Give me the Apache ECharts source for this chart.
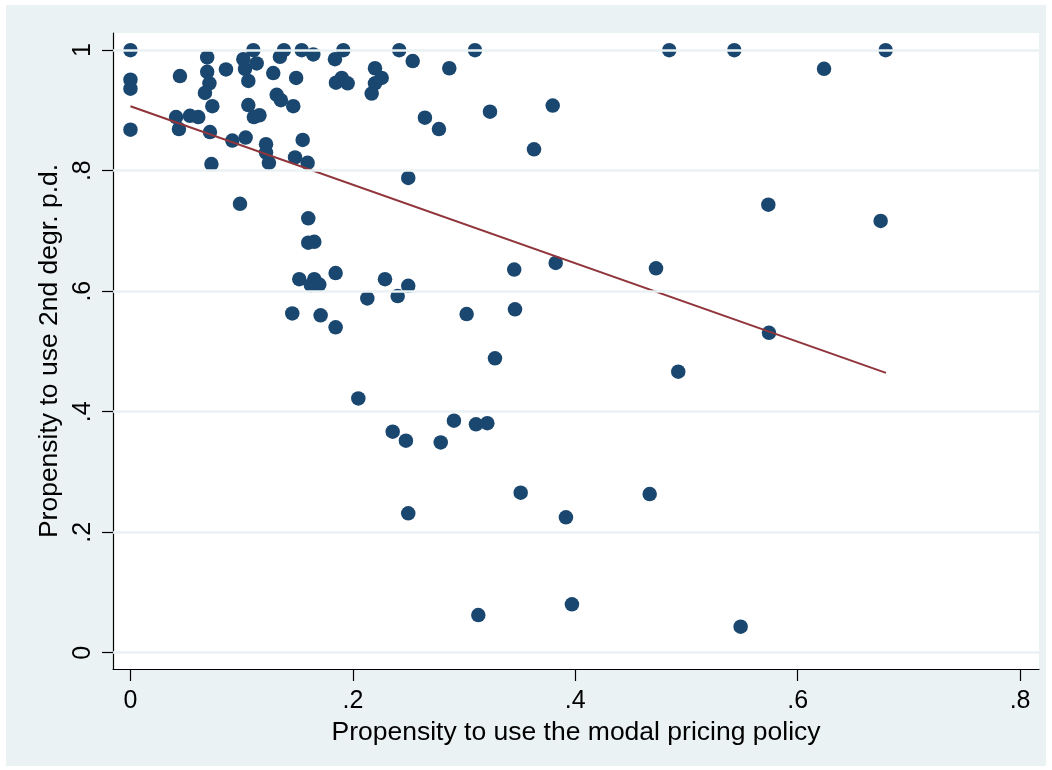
<!DOCTYPE html>
<html>
<head>
<meta charset="utf-8">
<script src="https://cdn.jsdelivr.net/npm/echarts@6/dist/echarts.min.js"></script>
<style>
html,body{margin:0;padding:0;background:#fff;}
#bg{position:absolute;left:6px;top:5px;width:1040px;height:761px;background:#EAF2F3;}
#chart{position:absolute;left:0;top:0;width:1052px;height:770px;}
</style>
</head>
<body>
<div id="bg"></div>
<div id="chart"></div>
<script>
// Propensity to use the modal pricing policy (x)
var pricingModal = [
  0, 0, 0, 0, 0.0445, 0.069, 0.069, 0.071, 0.067, 0.0736,
  0.041, 0.0535, 0.061, 0.0436, 0.0715, 0.0728, 0.0859, 0.0916, 0.0985, 0.1036,
  0.1015, 0.103, 0.106, 0.1105, 0.1135, 0.106, 0.111, 0.116, 0.1219, 0.1219,
  0.1245, 0.1284, 0.1315, 0.1353, 0.1344, 0.138, 0.1464, 0.148, 0.149, 0.1549,
  0.154, 0.1644, 0.1839, 0.1914, 0.1848, 0.190, 0.1953, 0.2199, 0.2259, 0.2199,
  0.2169, 0.2417, 0.2538, 0.2867, 0.3098, 0.2648, 0.2774, 0.1593, 0.2498, 0.1599,
  0.1599, 0.1653, 0.1518, 0.1653, 0.1623, 0.1698, 0.1845, 0.2289, 0.213, 0.2403,
  0.1455, 0.171, 0.1845, 0.2049, 0.2498, 0.3023, 0.3451, 0.3458, 0.3824, 0.3278,
  0.2358, 0.2477, 0.279, 0.2909, 0.3107, 0.3209, 0.3509, 0.2498, 0.3916, 0.4669,
  0.3128, 0.397, 0.4845, 0.543, 0.6791, 0.6237, 0.3233, 0.3797, 0.3629, 0.5736,
  0.6746, 0.4726, 0.5742, 0.4926, 0.5487
];
// Propensity to use 2nd degr. p.d. (y)
var secondDegree = [
  1.0, 0.951, 0.936, 0.868, 0.957, 0.988, 0.964, 0.945, 0.929, 0.907,
  0.889, 0.891, 0.889, 0.869, 0.864, 0.811, 0.968, 0.850, 0.745, 0.855,
  0.985, 0.969, 0.949, 1.0, 0.978, 0.909, 0.889, 0.892, 0.844, 0.830,
  0.813, 0.962, 0.926, 0.917, 0.989, 1.0, 0.907, 0.822, 0.954, 0.851,
  1.0, 0.993, 0.985, 1.0, 0.946, 0.954, 0.945, 0.970, 0.954, 0.945,
  0.928, 1.0, 0.982, 0.970, 1.0, 0.888, 0.869, 0.813, 0.788, 0.721,
  0.6805, 0.682, 0.620, 0.620, 0.610, 0.611, 0.630, 0.620, 0.588, 0.592,
  0.563, 0.560, 0.540, 0.422, 0.609, 0.562, 0.636, 0.570, 0.647, 0.4886,
  0.3668, 0.352, 0.349, 0.385, 0.379, 0.381, 0.2656, 0.2314, 0.2247, 0.2634,
  0.0626, 0.0803, 1.0, 1.0, 1.0, 0.969, 0.898, 0.908, 0.8355, 0.7436,
  0.7165, 0.638, 0.531, 0.4664, 0.0432
];
// Fitted values line (endpoints)
var fitX = [0, 0.6794];
var fitY = [0.907, 0.4645];

var xTickValues = [0, 0.2, 0.4, 0.6, 0.8];
var xTickLabels = ['0', '.2', '.4', '.6', '.8'];
var yTickValues = [0, 0.2, 0.4, 0.6, 0.8, 1];
var yTickLabels = ['0', '.2', '.4', '.6', '.8', '1'];

var xTitle = 'Propensity to use the modal pricing policy';
var yTitle = 'Propensity to use 2nd degr. p.d.';

var FONT = 'Liberation Sans, Arial, sans-serif';
var FS_TITLE = 26.5;
var FS_TICK = 25;

var points = pricingModal.map(function (x, i) { return [x, secondDegree[i]]; });
var fitLine = fitX.map(function (x, i) { return [x, fitY[i]]; });

var chart = echarts.init(document.getElementById('chart'), null, {renderer: 'canvas'});
chart.setOption({
  backgroundColor: 'transparent',
  animation: false,
  grid: {left: 113, top: 33, width: 926, height: 636, show: true, backgroundColor: '#ffffff', borderWidth: 0, containLabel: false},
  xAxis: {
    type: 'value', min: -0.0157, max: 0.817,
    name: xTitle, nameLocation: 'middle', nameGap: 45,
    nameTextStyle: {fontFamily: FONT, fontSize: FS_TITLE, color: '#000'},
    axisLine: {show: true, onZero: false, lineStyle: {color: '#000', width: 1.2}},
    axisTick: {show: true, length: 12, customValues: xTickValues, lineStyle: {color: '#000', width: 1.2}},
    axisLabel: {
      customValues: xTickValues, margin: 20, color: '#000', fontFamily: FONT, fontSize: FS_TICK,
      formatter: function (v) { return xTickLabels[xTickValues.indexOf(v)]; }
    },
    splitLine: {show: false}
  },
  yAxis: {
    type: 'value', min: -0.027, max: 1.0285,
    name: yTitle, nameLocation: 'middle', nameGap: 48,
    nameTextStyle: {fontFamily: FONT, fontSize: FS_TITLE, color: '#000'},
    axisLine: {show: true, onZero: false, lineStyle: {color: '#000', width: 1.2}},
    axisTick: {show: true, length: 11, customValues: yTickValues, lineStyle: {color: '#000', width: 1.2}},
    axisLabel: {
      customValues: yTickValues, rotate: 90, margin: 17, color: '#000', fontFamily: FONT, fontSize: FS_TICK,
      formatter: function (v) { return yTickLabels[yTickValues.indexOf(v)]; }
    },
    splitLine: {show: false}
  },
  series: [
    {
      type: 'line', data: [], z: 1, silent: true,
      markLine: {
        silent: true, symbol: 'none', label: {show: false},
        lineStyle: {color: '#EAF2F3', width: 2.5, type: 'solid'},
        data: yTickValues.map(function (v) { return {yAxis: v}; })
      }
    },
    {
      type: 'scatter', data: points, symbol: 'circle', symbolSize: 14.5, z: 3,
      itemStyle: {color: '#1A476F', opacity: 1}
    },
    {
      type: 'line', data: fitLine, symbol: 'none', z: 4,
      lineStyle: {color: '#90353B', width: 2}
    }
  ]
});
</script>
</body>
</html>
